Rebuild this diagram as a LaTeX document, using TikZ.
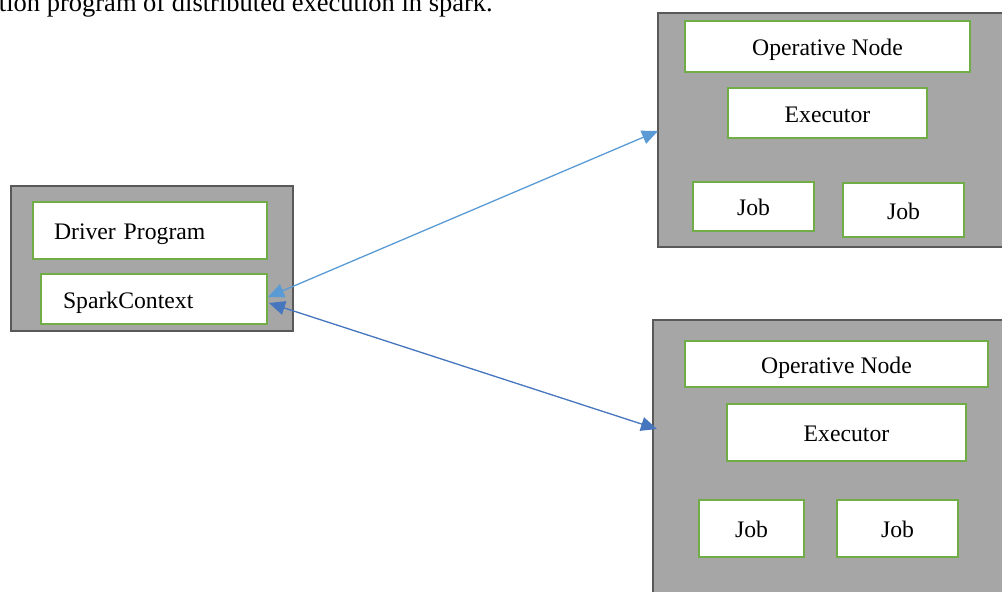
\documentclass[tikz,border=0pt]{standalone}
\usepackage{fontspec}
\setmainfont{Liberation Serif}
\usetikzlibrary{arrows.meta,calc}
\definecolor{boxgray}{HTML}{A6A6A6}
\definecolor{boxedge}{HTML}{595959}
\definecolor{ingreen}{HTML}{70AD47}
\definecolor{arrlight}{HTML}{5B9BD5}
\definecolor{arrdark}{HTML}{4676BE}
\tikzset{
  outerbox/.style={draw=boxedge, fill=boxgray, line width=2pt, inner sep=0pt},
  innerbox/.style={draw=ingreen, fill=white, line width=2pt, inner sep=0pt,
     font=\fontsize{23.7}{28}\selectfont, text height=18.5pt, text depth=0pt},
  leftbox/.style={innerbox, align=left},
  link/.style={line width=1.3pt, {Triangle[length=16pt,width=14pt]}-{Triangle[length=16pt,width=14pt]}}
}
\begin{document}
\begin{tikzpicture}[x=1pt,y=-1pt]
\useasboundingbox (0,0) rectangle (1002,592);
\clip (0,0) rectangle (1002,592);
\node[anchor=base east, inner sep=0pt, font=\fontsize{26.5}{30}\selectfont] (cap) at (493,11) {tion program of distributed execution in spark.};
% driver
\node[outerbox, minimum width=282pt, minimum height=145pt] (drv) at (152,258.5) {};
\node[leftbox, inner xsep=21pt, text width=192pt, minimum height=57pt] (dp) at (150,230.5) {Driver Program};
\node[leftbox, inner xsep=22pt, text width=182pt, minimum height=50pt] (sc) at (154,299) {SparkContext};
% worker 1
\node[outerbox, minimum width=352pt, minimum height=234pt] (w1) at (834,130) {};
\node[innerbox, minimum width=285pt, minimum height=51pt] (on1) at (827.5,46.5) {Operative Node};
\node[innerbox, minimum width=199pt, minimum height=50pt] (ex1) at (827.5,113) {Executor};
\node[innerbox, minimum width=121pt, minimum height=49pt] (j11) at (753.5,206.5) {Job};
\node[innerbox, minimum width=121pt, minimum height=54pt] (j12) at (903.5,210) {Job};
% worker 2
\node[outerbox, minimum width=357pt, minimum height=280pt] (w2) at (831.5,460) {};
\node[innerbox, minimum width=303pt, minimum height=46pt] (on2) at (836.5,364) {Operative Node};
\node[innerbox, minimum width=239pt, minimum height=57pt] (ex2) at (846.5,432.5) {Executor};
\node[innerbox, minimum width=105pt, minimum height=57pt] (j21) at (751.5,528.5) {Job};
\node[innerbox, minimum width=121pt, minimum height=57pt] (j22) at (897.5,528.5) {Job};
% connector end points
\coordinate (a1) at ($(sc.east)+(0,-2)$);
\coordinate (b1) at ($(w1.west)+(1,1)$);
\coordinate (a2) at ($(sc.east)+(1,4)$);
\coordinate (b2) at ($(w2.west)+(5,-31)$);
\draw[link, draw=arrlight, fill=arrlight] (a1) -- (b1);
\draw[link, draw=arrdark, fill=arrdark] (a2) -- (b2);
\end{tikzpicture}
\end{document}
